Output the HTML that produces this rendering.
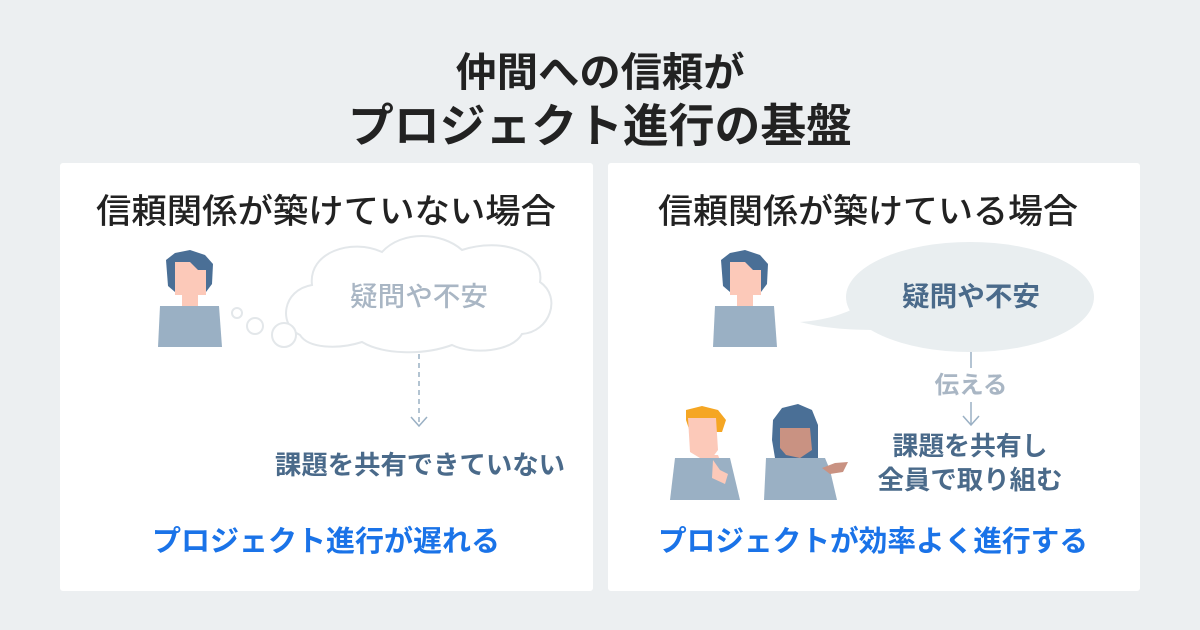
<!DOCTYPE html>
<html><head><meta charset="utf-8"><style>
html,body{margin:0;padding:0;background:#eceff1;}
svg{display:block}
text{font-family:"Liberation Sans","Noto Sans CJK JP",sans-serif;}
</style></head><body>
<svg width="1200" height="630" viewBox="0 0 1200 630" xmlns="http://www.w3.org/2000/svg">
<rect width="1200" height="630" fill="#eceff1"/>
<text x="600" y="86" text-anchor="middle" font-size="40" font-weight="700" fill="#222" textLength="289" lengthAdjust="spacingAndGlyphs">仲間への信頼が</text>
<text x="600" y="142" text-anchor="middle" font-size="46" font-weight="700" fill="#222" textLength="504" lengthAdjust="spacingAndGlyphs">プロジェクト進行の基盤</text>
<rect x="60" y="163" width="533" height="428" rx="3" fill="#fff"/>
<rect x="608" y="163" width="532" height="428" rx="3" fill="#fff"/>
<text x="326" y="223" text-anchor="middle" font-size="34" font-weight="500" fill="#222" textLength="460" lengthAdjust="spacingAndGlyphs">信頼関係が築けていない場合</text>
<text x="868" y="223" text-anchor="middle" font-size="34" font-weight="500" fill="#222" textLength="420" lengthAdjust="spacingAndGlyphs">信頼関係が築けている場合</text>
<g id="p1">
<polygon points="166,260 175,253 190,250 205,255 213,264 212,284 206,292 175,292 168,286" fill="#4a6f96"/>
<polygon points="175,262 190,262 198,270 206,270 206,295 175,295" fill="#fcc9b9"/>
<rect x="182" y="294" width="16" height="13" fill="#fcc9b9"/>
<polygon points="160,306 219,306 222,347 158,347" fill="#9ab0c4"/>
</g>
<use href="#p1" transform="translate(555,0)"/>
<path d="M300,335 C278,325 282,290 312,285 C308,252 352,238 382,252 C402,230 442,232 462,250 C502,237 545,252 540,282 C562,297 550,332 522,334 C512,352 472,355 452,345 C422,356 382,354 362,342 C337,350 308,348 300,335 Z" fill="#fff" stroke="#e3e7ea" stroke-width="2"/>
<circle cx="237" cy="313" r="5" fill="#fff" stroke="#e3e7ea" stroke-width="2"/>
<circle cx="255" cy="326" r="8" fill="#fff" stroke="#e3e7ea" stroke-width="2"/>
<circle cx="284" cy="335" r="12" fill="#fff" stroke="#e3e7ea" stroke-width="2"/>
<text x="419" y="306" text-anchor="middle" font-size="27" font-weight="500" fill="#a9b6c4" textLength="138" lengthAdjust="spacingAndGlyphs">疑問や不安</text>
<line x1="419" y1="354" x2="419" y2="424" stroke="#9ab0c4" stroke-width="1.5" stroke-dasharray="5,4"/>
<polyline points="411,417 419,426 427,417" fill="none" stroke="#9ab0c4" stroke-width="1.5"/>
<text x="420" y="474" text-anchor="middle" font-size="26" font-weight="700" fill="#4a6a8a" textLength="290" lengthAdjust="spacingAndGlyphs">課題を共有できていない</text>
<text x="326" y="551" text-anchor="middle" font-size="29" font-weight="700" fill="#1a73e8" textLength="348" lengthAdjust="spacingAndGlyphs">プロジェクト進行が遅れる</text>
<ellipse cx="970" cy="297" rx="124" ry="55" fill="#e9eef0"/>
<path d="M800,322 C830,320 850,312 870,300 L890,330 C860,330 830,330 800,322 Z" fill="#e9eef0"/>
<text x="971" y="306" text-anchor="middle" font-size="27" font-weight="700" fill="#4a6a8a" textLength="138" lengthAdjust="spacingAndGlyphs">疑問や不安</text>
<line x1="971" y1="352" x2="971" y2="368" stroke="#9ab0c4" stroke-width="1.5"/>
<text x="971" y="393" text-anchor="middle" font-size="24" font-weight="700" fill="#a9b6c4" textLength="73" lengthAdjust="spacingAndGlyphs">伝える</text>
<line x1="971" y1="402" x2="971" y2="424" stroke="#9ab0c4" stroke-width="1.5"/>
<polyline points="963,416 971,425 979,416" fill="none" stroke="#9ab0c4" stroke-width="1.5"/>
<text x="970" y="455" text-anchor="middle" font-size="26" font-weight="700" fill="#4a6a8a" textLength="155" lengthAdjust="spacingAndGlyphs">課題を共有し</text>
<text x="970" y="489" text-anchor="middle" font-size="26" font-weight="700" fill="#4a6a8a" textLength="185" lengthAdjust="spacingAndGlyphs">全員で取り組む</text>
<!-- orange person -->
<polygon points="686,410 702,406 718,410 726,420 722,432 690,432 686,420" fill="#f5a623"/>
<polygon points="688,418 716,418 718,450 712,458 700,458 690,452" fill="#fcc9b9"/>
<polygon points="700,455 718,455 722,465 730,475 725,482 715,478 700,468" fill="#fcc9b9"/>
<polygon points="675,458 730,458 740,500 670,500" fill="#9ab0c4"/>
<polygon points="713,460 720,470 728,474 725,484 712,478" fill="#fcc9b9"/>
<!-- dark person -->
<polygon points="773,420 782,408 798,404 812,410 818,425 818,458 775,458 772,440" fill="#4a6f96"/>
<polygon points="780,428 810,428 812,450 800,458 786,455 780,448" fill="#c99282"/>
<polygon points="766,458 825,458 830,470 837,500 764,500" fill="#9ab0c4"/>
<polygon points="822,468 835,463 848,462 843,472 830,474" fill="#c99282"/>
<text x="873" y="551" text-anchor="middle" font-size="29" font-weight="700" fill="#1a73e8" textLength="430" lengthAdjust="spacingAndGlyphs">プロジェクトが効率よく進行する</text>
</svg>
</body></html>
